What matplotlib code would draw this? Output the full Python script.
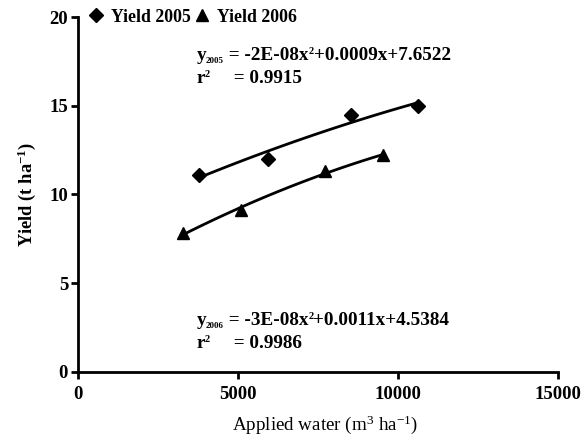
import numpy as np
import matplotlib
matplotlib.use('Agg')
import matplotlib.pyplot as plt
from matplotlib.transforms import IdentityTransform

plt.rcParams['font.family'] = ['Liberation Serif', 'DejaVu Serif']
plt.rcParams['mathtext.fontset'] = 'custom'
plt.rcParams['mathtext.rm'] = 'Liberation Serif'
plt.rcParams['mathtext.bf'] = 'Liberation Serif:bold'

# data
water_2005 = [3770, 5930, 8530, 10610]
yield_2005 = [11.1, 12.0, 14.5, 15.0]
water_2006 = [3300, 5100, 7710, 9530]
yield_2006 = [7.8, 9.15, 11.3, 12.2]

eq_labels = [('2005', '-2E-08x', '+0.0009x+7.6522', '0.9915'),
             ('2006', '-3E-08x', '+0.0011x+4.5384', '0.9986')]
eq_pos = [(3700, 17.6), (3700, 2.65)]


def chain_text(fig, x, y, pieces, renderer):
    # pieces: (text, fontsize, vertical shift in px); drawn one after another on a baseline
    for s, size, dy in pieces:
        t = fig.text(x, y + dy, s, fontsize=size, fontweight='bold',
                     va='baseline', ha='left', transform=IdentityTransform())
        x = t.get_window_extent(renderer).x1


fig = plt.figure(figsize=(5.85, 4.4), dpi=100)
ax = fig.add_axes([0.133, 0.155, 0.821, 0.806])

for xs, ys in [(water_2005, yield_2005), (water_2006, yield_2006)]:
    coef = np.polyfit(xs, ys, 2)
    xx = np.linspace(min(xs), max(xs), 100)
    ax.plot(xx, np.polyval(coef, xx), color='k', lw=2)

h1, = ax.plot(water_2005, yield_2005, 'kD', ms=7, ls='none', label='Yield 2005')
h2, = ax.plot(water_2006, yield_2006, 'k^', ms=8.5, ls='none', label='Yield 2006')

ax.set_xlim(0, 15000)
ax.set_ylim(0, 20)
ax.set_xticks([0, 5000, 10000, 15000])
ax.set_yticks([0, 5, 10, 15, 20])
for s in ['top', 'right']:
    ax.spines[s].set_visible(False)
for s in ['left', 'bottom']:
    ax.spines[s].set_linewidth(2)
ax.tick_params(width=2, length=5, labelsize=13.5)
ax.tick_params(axis='x', pad=5)
ax.tick_params(axis='y', pad=2)
for label in ax.get_xticklabels() + ax.get_yticklabels():
    label.set_fontweight('bold')

ax.set_xlabel(r'Applied water (m$\mathregular{^3}$ ha$\mathregular{^{-1}}$)', fontsize=13.7)
ax.xaxis.set_label_coords(0.515, -0.118)
ax.set_ylabel(r'Yield (t ha$\mathregular{^{-1}}$)', fontsize=13.3, fontweight='bold', labelpad=8)

ax.legend(handles=[h1, h2], loc='center left', bbox_to_anchor=(0.024, 1.0),
          ncol=2, frameon=False, handlelength=0.7, handletextpad=0.5,
          columnspacing=0.3, borderaxespad=0, borderpad=0,
          prop={'size': 12.8, 'weight': 'bold'})

renderer = fig.canvas.get_renderer()
for (yr, quad, rest, r2), (ex, ey) in zip(eq_labels, eq_pos):
    px, py = ax.transData.transform((ex, ey))
    chain_text(fig, px, py, [('y', 13.8, 0), (yr, 6.5, -3), (' = ' + quad, 13.8, 0),
                             ('2', 7.5, 6), (rest, 13.8, 0)], renderer)
    chain_text(fig, px, py - 23, [('r', 13.8, 0), ('2', 7.5, 6),
                                  ('     = ' + r2, 13.8, 0)], renderer)

fig.savefig('out.png', dpi=100)
